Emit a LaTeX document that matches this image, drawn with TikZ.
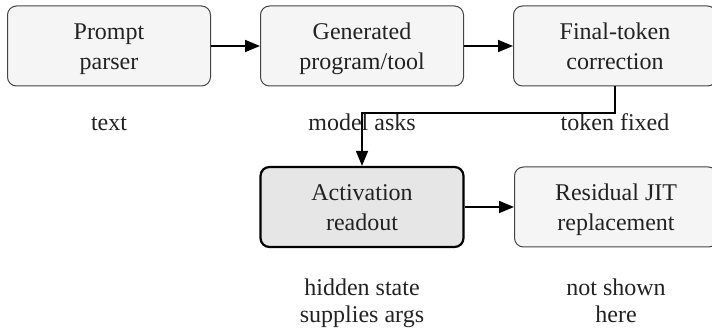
\documentclass[tikz,border=0pt]{standalone}
\usepackage{fontspec}
\setmainfont{Liberation Serif}
\usetikzlibrary{arrows.meta}
\definecolor{boxfill}{HTML}{F5F5F5}
\definecolor{actfill}{HTML}{E6E6E6}
\definecolor{boxline}{HTML}{444444}
\definecolor{txt}{HTML}{222222}
\tikzset{
  stagebox/.style={draw=boxline, line width=0.5pt, fill=boxfill, rounded corners=4.5pt,
    minimum width=101.5pt, minimum height=40pt, align=center, text=txt,
    font=\fontsize{12}{15}\selectfont, inner sep=0pt},
  activebox/.style={stagebox, draw=black, line width=1.1pt, fill=actfill},
  note/.style={align=center, text=txt, font=\fontsize{12}{13.5}\selectfont, inner sep=0pt},
  flow/.style={line width=0.85pt, -{Triangle[length=7.5pt,width=6pt]}},
}
\begin{document}
\begin{tikzpicture}[x=0.5pt,y=-0.5pt]
\useasboundingbox (0,0) rectangle (712,331);
\node[stagebox] (parse) at (109,46) {\rule{0pt}{13pt}Prompt\strut\\parser\strut};
\node[stagebox] (gen) at (362,46) {\rule{0pt}{13pt}Generated\strut\\program/tool\strut};
\node[stagebox] (fin) at (615,46) {\rule{0pt}{13pt}Final-token\strut\\correction\strut};
\node[activebox] (act) at (362,207) {\rule{0pt}{13pt}Activation\strut\\readout\strut};
\node[stagebox] (res) at (616,207) {\rule{0pt}{13pt}Residual JIT\strut\\replacement\strut};
\node[note] (l1) at (109,125) {text\strut};
\node[note] (l2) at (362,125) {model asks\strut};
\node[note] (l3) at (615,125) {token fixed\strut};
\node[note] (l4) at (362,304) {hidden state\strut\\supplies args\strut};
\node[note] (l5) at (616,304) {not shown\strut\\here\strut};
\coordinate (bend) at (615,113);
\draw[flow] (parse) -- (gen);
\draw[flow] (gen) -- (fin);
\draw[flow] (fin.south) -- (fin.south |- bend) -| (act.north);
\draw[flow] (act) -- (res);
\end{tikzpicture}
\end{document}
